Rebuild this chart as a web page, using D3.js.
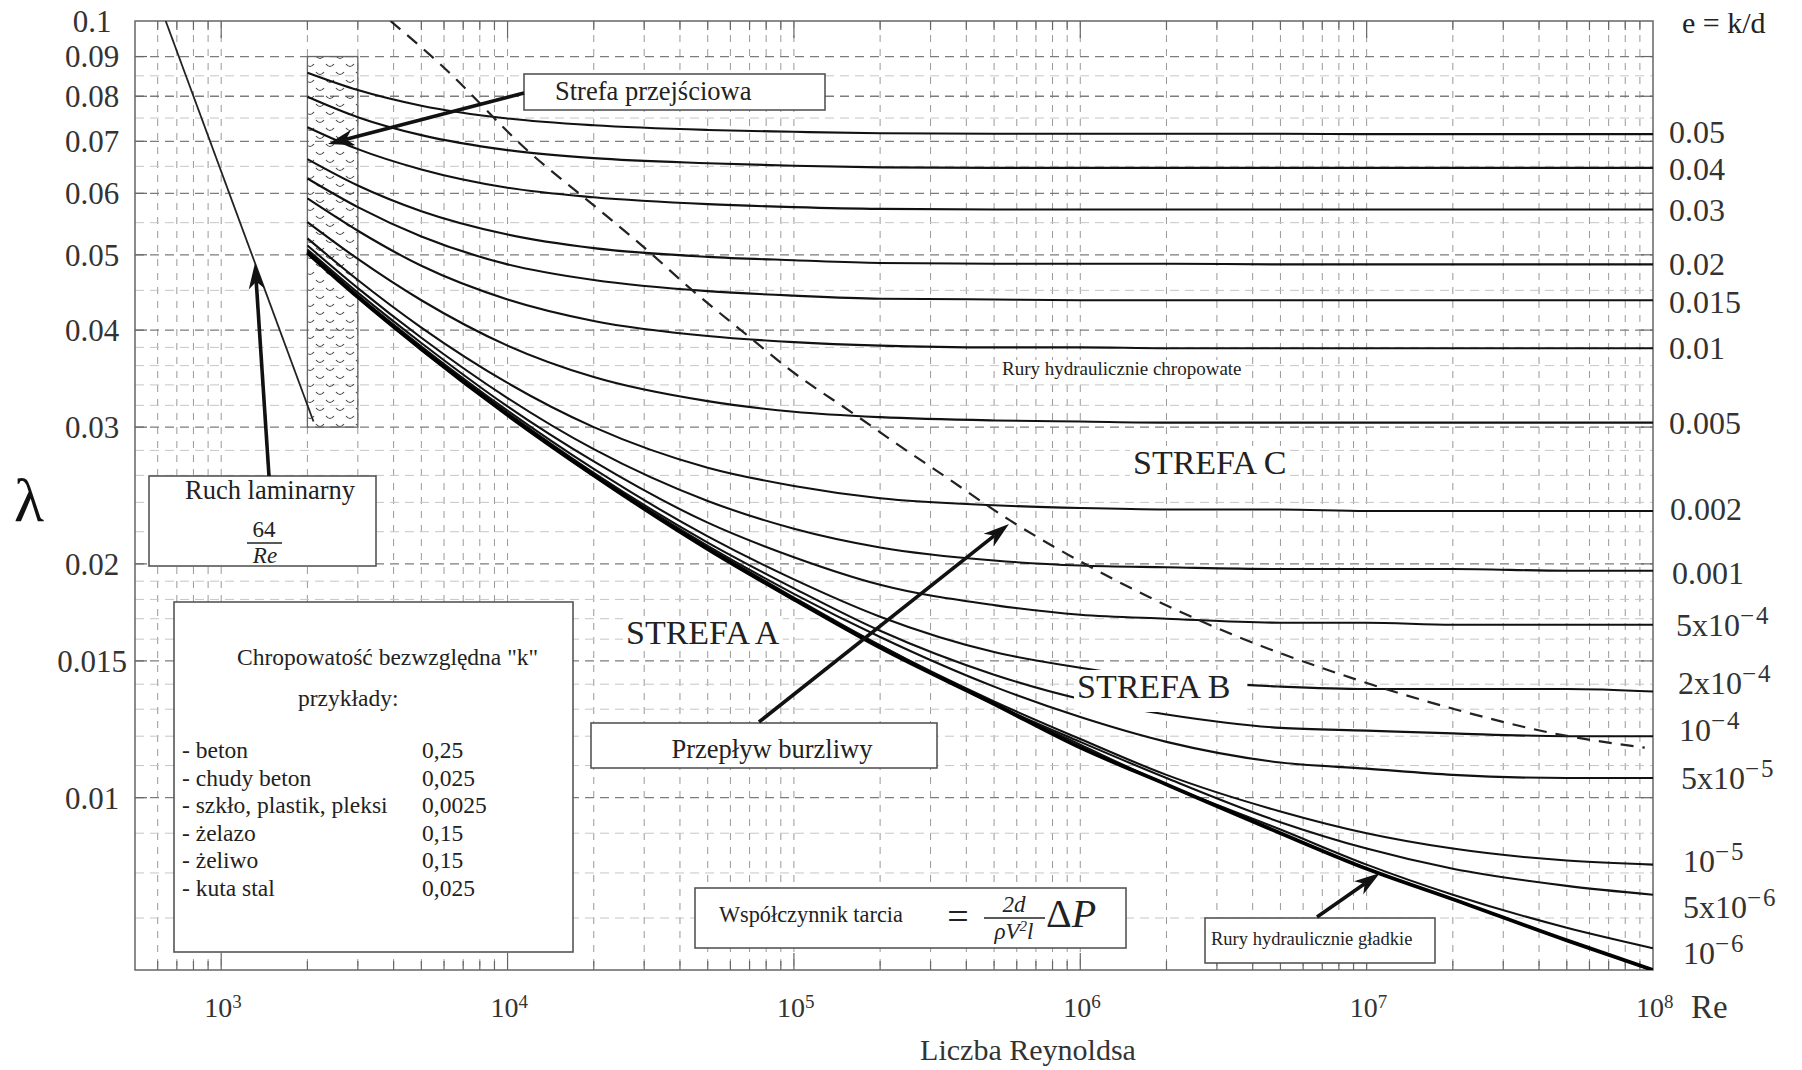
<!DOCTYPE html>
<html>
<head>
<meta charset="utf-8">
<script src="https://cdn.jsdelivr.net/npm/d3@7"></script>
<style>
  body { margin: 0; background: #fff; }
  svg { font-family: "Liberation Serif", "Times New Roman", serif; }
</style>
</head>
<body>
<svg id="chart" width="1802" height="1070"></svg>
<script>
// ---- values ----
const reVals = [2e3, 3e3, 5e3, 1e4, 2e4, 5e4, 1e5, 2e5, 5e5, 1e6, 2e6, 5e6, 1e7, 2e7, 5e7, 1e8];

const f_0_05  = [0.0858, 0.0815, 0.0778, 0.0749, 0.0734, 0.0724, 0.0720, 0.0717, 0.0716, 0.0716, 0.0716, 0.0716, 0.0715, 0.0715, 0.0715, 0.0715];
const f_0_04  = [0.0799, 0.0752, 0.0713, 0.0682, 0.0666, 0.0656, 0.0651, 0.0648, 0.0647, 0.0647, 0.0647, 0.0647, 0.0647, 0.0647, 0.0647, 0.0647];
const f_0_03  = [0.0730, 0.0684, 0.0644, 0.0610, 0.0593, 0.0581, 0.0576, 0.0573, 0.0572, 0.0572, 0.0572, 0.0572, 0.0572, 0.0572, 0.0572, 0.0572];
const f_0_02  = [0.0664, 0.0614, 0.0569, 0.0531, 0.0510, 0.0497, 0.0492, 0.0488, 0.0487, 0.0487, 0.0487, 0.0486, 0.0486, 0.0486, 0.0486, 0.0486];
const f_0_015 = [0.0627, 0.0576, 0.0528, 0.0486, 0.0464, 0.0449, 0.0443, 0.0439, 0.0438, 0.0437, 0.0437, 0.0437, 0.0437, 0.0437, 0.0437, 0.0437];
const f_0_01  = [0.0591, 0.0537, 0.0484, 0.0438, 0.0411, 0.0393, 0.0386, 0.0382, 0.0380, 0.0380, 0.0379, 0.0379, 0.0379, 0.0379, 0.0379, 0.0379];
const f_0_005 = [0.0551, 0.0494, 0.0437, 0.0382, 0.0348, 0.0324, 0.0314, 0.0309, 0.0306, 0.0305, 0.0304, 0.0304, 0.0304, 0.0304, 0.0304, 0.0304];
const f_0_002 = [0.0525, 0.0464, 0.0403, 0.0342, 0.0300, 0.0266, 0.0252, 0.0243, 0.0238, 0.0236, 0.0235, 0.0235, 0.0234, 0.0234, 0.0234, 0.0234];
const f_0_001 = [0.0514, 0.0453, 0.0391, 0.0327, 0.0281, 0.0241, 0.0222, 0.0210, 0.0202, 0.0199, 0.0198, 0.0197, 0.0197, 0.0197, 0.0196, 0.0196];
const f_5e4   = [0.0508, 0.0447, 0.0385, 0.0319, 0.0271, 0.0226, 0.0204, 0.0188, 0.0177, 0.0172, 0.0170, 0.0168, 0.0168, 0.0167, 0.0167, 0.0167];
const f_2e4   = [0.0506, 0.0443, 0.0381, 0.0315, 0.0265, 0.0217, 0.0191, 0.0171, 0.0154, 0.0147, 0.0142, 0.0139, 0.0138, 0.0138, 0.0138, 0.0137];
const f_1e4   = [0.0505, 0.0443, 0.0380, 0.0313, 0.0262, 0.0213, 0.0186, 0.0164, 0.0144, 0.0134, 0.0128, 0.0123, 0.0122, 0.0121, 0.0120, 0.0120];
const f_5e5   = [0.0505, 0.0442, 0.0379, 0.0312, 0.0261, 0.0211, 0.0183, 0.0161, 0.0139, 0.0127, 0.0118, 0.0111, 0.0109, 0.0107, 0.0106, 0.0106];
const f_1e5   = [0.0503, 0.0441, 0.0378, 0.0311, 0.0260, 0.0210, 0.0181, 0.0157, 0.0133, 0.0119, 0.0107, 0.0096, 0.0090, 0.0086, 0.0083, 0.0082];
const f_5e6   = [0.0503, 0.0441, 0.0378, 0.0311, 0.0260, 0.0210, 0.0180, 0.0157, 0.0132, 0.0118, 0.0106, 0.0093, 0.0086, 0.0081, 0.0077, 0.0075];
const f_1e6   = [0.0503, 0.0441, 0.0378, 0.0311, 0.0260, 0.0210, 0.0180, 0.0156, 0.0132, 0.0117, 0.0104, 0.0091, 0.0082, 0.0075, 0.0068, 0.0064];
const fSmooth = [0.0503, 0.0441, 0.0378, 0.0311, 0.0260, 0.0209, 0.0180, 0.0156, 0.0132, 0.0116, 0.0104, 0.0090, 0.0081, 0.0074, 0.00655, 0.0060];

const eLabels = ["0.05", "0.04", "0.03", "0.02", "0.015", "0.01", "0.005", "0.002", "0.001",
                 "5x10^−4", "2x10^−4", "10^−4", "5x10^−5", "10^−5", "5x10^−6", "10^−6"];

const laminarRe = [640, 2100];
const laminarF  = [0.1, 0.0305];

// boundary of the fully rough zone (dashed)
const boundaryRe = [3900, 5760, 11900, 20100, 31300, 42400, 70400, 95400, 164000, 230000, 323000, 563000, 1.09e6, 2.93e6, 9.17e6, 2.03e7, 4.5e7, 9.36e7];
const boundaryF  = [0.1, 0.0883, 0.0678, 0.0578, 0.0504, 0.0456, 0.0391, 0.0357, 0.0311, 0.0285, 0.0262, 0.0228, 0.0198, 0.0166, 0.0142, 0.0130, 0.0121, 0.0116];

const transRe = [2000, 3000];
const transF  = [0.03, 0.09];

const yTickVals  = [0.1, 0.09, 0.08, 0.07, 0.06, 0.05, 0.04, 0.03, 0.02, 0.015, 0.01];
const yMinorVals = [0.085, 0.075, 0.065, 0.055, 0.045, 0.038, 0.036, 0.034, 0.032, 0.028, 0.026, 0.024, 0.022,
                    0.019, 0.018, 0.017, 0.016, 0.014, 0.013, 0.012, 0.011, 0.009, 0.008, 0.007];
const xMajorVals = [1e3, 1e4, 1e5, 1e6, 1e7, 1e8];
const xMajorExp  = ["3", "4", "5", "6", "7", "8"];

const materials = ["- beton", "- chudy beton", "- szkło, plastik, pleksi", "- żelazo", "- żeliwo", "- kuta stal"];
const materialK = ["0,25", "0,025", "0,0025", "0,15", "0,15", "0,025"];

// ---- layout ----
const margin = {top: 21, right: 149, bottom: 100, left: 135};
const width = 1802 - margin.left - margin.right;
const height = 1070 - margin.top - margin.bottom;

// small vertical / horizontal nudges of the right-hand labels
const labelDy = [-2, 1, 0, -1, 2, 0, 0, -2, 2, 0, -9, -6, 0, -4, 12, 5];
const labelDx = [16, 16, 16, 16, 16, 16, 16, 17, 19, 23, 25, 26, 28, 30, 30, 30];

const svg = d3.select('#chart');
const defs = svg.append('defs');
defs.append('clipPath').attr('id', 'plotClip')
    .append('rect').attr('width', width).attr('height', height);

const pat = defs.append('pattern').attr('id', 'hatch')
    .attr('patternUnits', 'userSpaceOnUse').attr('width', 20).attr('height', 16);
pat.append('path')
    .attr('d', 'M1,3 q4,5 8,0 M11,11 q4,5 8,0')
    .attr('fill', 'none').attr('stroke', '#444').attr('stroke-width', 1.2);

const g = svg.append('g').attr('transform', `translate(${margin.left},${margin.top})`);

const x = d3.scaleLog().domain([500, 1e8]).range([0, width]);
const y = d3.scaleLog().domain([0.006, 0.1]).range([height, 0]);

// grid
const gridG = g.append('g').attr('clip-path', 'url(#plotClip)');
const xGrid = x.ticks().filter(v => v > 500 && v < 1e8);

gridG.selectAll('.vgrid').data(xGrid).join('line')
    .attr('class', 'vgrid')
    .attr('x1', d => x(d)).attr('x2', d => x(d))
    .attr('y1', 0).attr('y2', height)
    .attr('stroke', '#999').attr('stroke-width', 1).attr('stroke-dasharray', '7,7');

gridG.selectAll('.hminor').data(yMinorVals).join('line')
    .attr('class', 'hminor')
    .attr('x1', 0).attr('x2', width)
    .attr('y1', d => y(d)).attr('y2', d => y(d))
    .attr('stroke', '#c6c6c6').attr('stroke-width', 1).attr('stroke-dasharray', '9,6');

gridG.selectAll('.hmajor').data(yTickVals.slice(1)).join('line')
    .attr('class', 'hmajor')
    .attr('x1', 0).attr('x2', width)
    .attr('y1', d => y(d)).attr('y2', d => y(d))
    .attr('stroke', '#7c7c7c').attr('stroke-width', 1.3).attr('stroke-dasharray', '9,6');

// frame and inner ticks
g.append('rect').attr('width', width).attr('height', height)
    .attr('fill', 'none').attr('stroke', '#666').attr('stroke-width', 1.5);

const tickG = g.append('g').attr('stroke', '#666').attr('stroke-width', 1.2);
xGrid.forEach(v => {
    const len = xMajorVals.includes(v) ? 17 : 9;
    tickG.append('line').attr('x1', x(v)).attr('x2', x(v)).attr('y1', height).attr('y2', height - len);
    tickG.append('line').attr('x1', x(v)).attr('x2', x(v)).attr('y1', 0).attr('y2', len);
});
yTickVals.slice(1).forEach(v => {
    tickG.append('line').attr('x1', 0).attr('x2', 12).attr('y1', y(v)).attr('y2', y(v));
    tickG.append('line').attr('x1', width).attr('x2', width - 12).attr('y1', y(v)).attr('y2', y(v));
});

// y tick labels
g.selectAll('.ylab').data(yTickVals).join('text')
    .attr('class', 'ylab')
    .attr('x', 92 - margin.left).attr('y', d => y(d)).attr('dy', '0.35em')
    .attr('text-anchor', 'middle').attr('font-size', 31).attr('fill', '#333')
    .text(d => String(d));

// x tick labels (10^n)
xMajorVals.forEach((v, i) => {
    g.append('text').attr('x', x(v) + 11).attr('y', height + 47)
        .attr('text-anchor', 'end').attr('font-size', 28).attr('fill', '#333').text('10');
    g.append('text').attr('x', x(v) + 11).attr('y', height + 38)
        .attr('font-size', 19).attr('fill', '#333').text(xMajorExp[i]);
});

// transition zone
g.append('rect')
    .attr('x', x(transRe[0])).attr('y', y(transF[1]))
    .attr('width', x(transRe[1]) - x(transRe[0]))
    .attr('height', y(transF[0]) - y(transF[1]))
    .attr('fill', 'url(#hatch)').attr('stroke', '#666').attr('stroke-width', 1.3);

// curves
const curves = [
    {label: eLabels[0], values: f_0_05},  {label: eLabels[1], values: f_0_04},
    {label: eLabels[2], values: f_0_03},  {label: eLabels[3], values: f_0_02},
    {label: eLabels[4], values: f_0_015}, {label: eLabels[5], values: f_0_01},
    {label: eLabels[6], values: f_0_005}, {label: eLabels[7], values: f_0_002},
    {label: eLabels[8], values: f_0_001}, {label: eLabels[9], values: f_5e4},
    {label: eLabels[10], values: f_2e4},  {label: eLabels[11], values: f_1e4},
    {label: eLabels[12], values: f_5e5},  {label: eLabels[13], values: f_1e5},
    {label: eLabels[14], values: f_5e6},  {label: eLabels[15], values: f_1e6}
];

const line = d3.line().x(d => x(d[0])).y(d => y(d[1])).curve(d3.curveMonotoneX);
const curveG = g.append('g').attr('clip-path', 'url(#plotClip)').attr('fill', 'none');

curveG.selectAll('.ecurve').data(curves).join('path')
    .attr('class', 'ecurve')
    .attr('d', c => line(reVals.map((r, i) => [r, c.values[i]])))
    .attr('stroke', '#111').attr('stroke-width', 2.1);

curveG.append('path')
    .attr('d', line(reVals.map((r, i) => [r, fSmooth[i]])))
    .attr('stroke', '#000').attr('stroke-width', 3.8);

curveG.append('path')
    .attr('d', d3.line().x(d => x(d[0])).y(d => y(d[1]))(laminarRe.map((r, i) => [r, laminarF[i]])))
    .attr('stroke', '#222').attr('stroke-width', 1.8);

curveG.append('path')
    .attr('d', line(boundaryRe.map((r, i) => [r, boundaryF[i]])))
    .attr('stroke', '#222').attr('stroke-width', 2.2).attr('stroke-dasharray', '13,9');

// right-hand labels
const rlab = svg.append('g').attr('fill', '#333').attr('font-size', 32);
curves.forEach((c, i) => {
    const yy = margin.top + y(c.values[c.values.length - 1]) + labelDy[i];
    const t = rlab.append('text').attr('x', margin.left + width + labelDx[i]).attr('y', yy).attr('dy', '0.35em');
    const parts = c.label.split('^');
    t.append('tspan').text(parts[0]);
    if (parts[1]) {
        t.append('tspan').attr('dy', -12).attr('font-size', 25).attr('letter-spacing', 2).text(parts[1]);
    }
});
svg.append('text').attr('x', 1682).attr('y', 33).attr('font-size', 30).attr('fill', '#222').text('e = k/d');

// axis titles
svg.append('text').attr('x', 1691).attr('y', 1018).attr('font-size', 33).attr('fill', '#333').text('Re');
svg.append('text').attr('x', 1028).attr('y', 1060).attr('text-anchor', 'middle')
    .attr('font-size', 30).attr('fill', '#333').text('Liczba Reynoldsa');
svg.append('text').attr('x', 14).attr('y', 521).attr('font-size', 62).attr('fill', '#111').text('λ');

// ---- annotations ----
const ann = svg.append('g');

function box(x0, y0, w, h) {
    return ann.append('rect').attr('x', x0).attr('y', y0).attr('width', w).attr('height', h)
        .attr('fill', '#fff').attr('stroke', '#555').attr('stroke-width', 1.6);
}

function txt(x0, y0, s, size, anchor) {
    return ann.append('text').attr('x', x0).attr('y', y0).attr('font-size', size)
        .attr('text-anchor', anchor || 'start').attr('fill', '#222').text(s);
}

// text with a white patch behind it
function patchText(x0, y0, s, size, padR, padB) {
    const t = txt(x0, y0, s, size);
    const bb = t.node().getBBox();
    ann.insert('rect', () => t.node())
        .attr('x', bb.x - 3).attr('y', bb.y + 2)
        .attr('width', bb.width + 6 + (padR || 0)).attr('height', bb.height - 2 + (padB || 0))
        .attr('fill', '#fff');
    return t;
}

function arrow(x1, y1, x2, y2) {
    const a = Math.atan2(y2 - y1, x2 - x1);
    const len = 26, hw = 8;
    const bx = x2 - len * Math.cos(a), by = y2 - len * Math.sin(a);
    const nx = x2 - (len * 0.72) * Math.cos(a), ny = y2 - (len * 0.72) * Math.sin(a);
    ann.append('line').attr('x1', x1).attr('y1', y1).attr('x2', nx).attr('y2', ny)
        .attr('stroke', '#111').attr('stroke-width', 3.6);
    const px = -Math.sin(a), py = Math.cos(a);
    ann.append('path')
        .attr('d', `M${x2},${y2} L${bx + hw * px},${by + hw * py} L${nx},${ny} L${bx - hw * px},${by - hw * py} Z`)
        .attr('fill', '#111');
}

// zone labels
patchText(1002, 375, 'Rury hydraulicznie chropowate', 19);
patchText(1133, 474, 'STREFA C', 34);
patchText(626, 644, 'STREFA A', 34);
patchText(1077, 698, 'STREFA B', 34, 14, 7);

// transition zone
box(524, 74, 301, 36);
txt(555, 100, 'Strefa przejściowa', 26.5);
arrow(524, 93, 328, 144);

// laminar
box(149, 476, 227, 90);
txt(270, 499, 'Ruch laminarny', 26.5, 'middle');
txt(264, 537, '64', 23, 'middle');
ann.append('line').attr('x1', 247).attr('x2', 282).attr('y1', 543).attr('y2', 543)
    .attr('stroke', '#222').attr('stroke-width', 1.4);
txt(265, 563, 'Re', 23, 'middle').attr('font-style', 'italic');
arrow(269, 476, 255, 263);

// roughness examples
box(174, 602, 399, 350);
txt(237, 665, 'Chropowatość bezwzględna "k"', 23.5);
txt(298, 706, 'przykłady:', 23.5);
materials.forEach((m, i) => {
    txt(182, 758 + i * 27.5, m, 23.5);
    txt(422, 758 + i * 27.5, materialK[i], 23.5);
});

// turbulent
box(591, 723, 346, 45);
txt(772, 758, 'Przepływ burzliwy', 26.5, 'middle');
arrow(759, 722, 1009, 524);

// friction factor formula
box(695, 888, 431, 60);
txt(719, 922, 'Współczynnik tarcia', 22.3);
txt(958, 929, '=', 38, 'middle');
txt(1014, 912, '2d', 23, 'middle').attr('font-style', 'italic');
ann.append('line').attr('x1', 984).attr('x2', 1045).attr('y1', 918).attr('y2', 918)
    .attr('stroke', '#222').attr('stroke-width', 1.3);
const den = txt(1014, 939, '', 23, 'middle').attr('font-style', 'italic');
den.append('tspan').text('ρV');
den.append('tspan').attr('font-size', 15).attr('dy', -8).text('2');
den.append('tspan').attr('dy', 8).text('l');
const dp = txt(1046, 927, '', 40);
dp.append('tspan').text('Δ');
dp.append('tspan').attr('font-style', 'italic').text('P');

// smooth pipes
box(1205, 918, 230, 45);
txt(1211, 945, 'Rury hydraulicznie gładkie', 18.5);
arrow(1317, 917, 1380, 873);
</script>
</body>
</html>
